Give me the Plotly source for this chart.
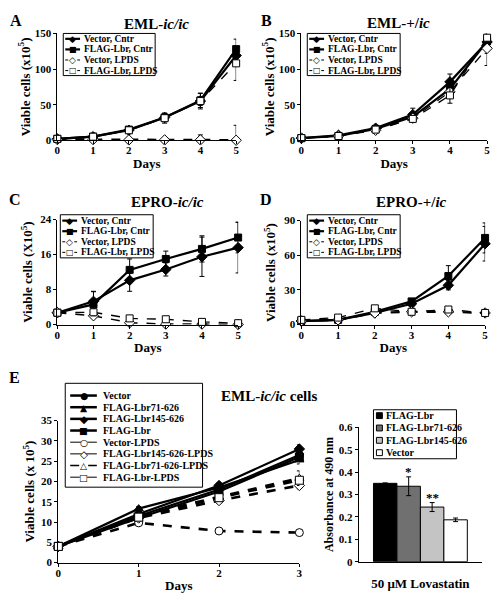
import plotly.graph_objects as go

W, H = 497, 600
SERIF = "Liberation Serif"
GLYPH = "DejaVu Sans"

# ---------------- data ----------------
days5 = [0, 1, 2, 3, 4, 5]
days3 = [0, 1, 2, 3]

# Panel A: EML-ic/ic
a_vector_cntr = [2, 5, 14, 32, 55, 119]
a_vector_cntr_err = [0.5, 1, 2, 4, 6, 10]
a_lbr_cntr = [2, 5, 15, 32, 56, 128]
a_lbr_cntr_err = [0.5, 1, 2, 6, 10, 14]
a_vector_lpds = [1, 1, 0.5, 0.5, 0.5, 0]
a_vector_lpds_err = [0, 0, 0, 2, 7, 21]
a_lbr_lpds = [2, 5, 14, 31, 55, 108]
a_lbr_lpds_err = [0.5, 1, 3, 7, 11, 24]

# Panel B: EML-+/ic
b_vector_cntr = [3, 7, 17, 36, 82, 138]
b_vector_cntr_err = [1, 1, 2, 9, 11, 16]
b_lbr_cntr = [3, 6, 16, 33, 72, 139]
b_lbr_cntr_err = [1, 1, 2, 5, 8, 10]
b_vector_lpds = [3, 6, 14, 31, 68, 129]
b_vector_lpds_err = [1, 1, 2, 4, 8, 24]
b_lbr_lpds = [3, 6, 15, 30, 63, 144]
b_lbr_lpds_err = [1, 1, 2, 4, 11, 8]

# Panel C: EPRO-ic/ic
c_vector_cntr = [2.7, 5.3, 10.1, 12.6, 15.5, 17.6]
c_vector_cntr_err = [0.3, 2.2, 2.5, 1.5, 4.5, 5.8]
c_lbr_cntr = [2.7, 4.6, 12.5, 15.0, 17.3, 19.9]
c_lbr_cntr_err = [0.3, 3.0, 2.5, 1.8, 3.0, 3.5]
c_vector_lpds = [2.7, 2.0, 0.4, 0.1, 0.1, 0.0]
c_vector_lpds_err = [0.3, 0.5, 0.2, 0.1, 0.1, 0.1]
c_lbr_lpds = [2.7, 2.8, 1.4, 1.2, 0.6, 0.3]
c_lbr_lpds_err = [0.3, 0.8, 0.3, 0.3, 0.2, 0.1]

# Panel D: EPRO-+/ic
d_vector_cntr = [3, 4, 10, 18, 34, 70]
d_vector_cntr_err = [0.5, 1, 1.5, 2, 4, 15]
d_lbr_cntr = [3, 4, 11, 20, 42, 75]
d_lbr_cntr_err = [0.5, 1, 1.5, 2, 9, 13]
d_vector_lpds = [3, 4, 10, 11, 11, 10]
d_vector_lpds_err = [0.5, 1, 1, 1, 1, 1]
d_lbr_lpds = [4, 6, 14, 11, 13, 10]
d_lbr_lpds_err = [0.5, 1, 1, 1, 1, 1]

# Panel E: EML-ic/ic cells
e_vector = [4, 11.5, 18, 26.5]
e_vector_err = [0.3, 0.5, 0.6, 1.0]
e_lbr71 = [4, 13.3, 18.5, 25.3]
e_lbr71_err = [0.3, 0.5, 0.6, 1.0]
e_lbr145 = [4, 12, 19, 28]
e_lbr145_err = [0.3, 0.5, 0.6, 1.0]
e_lbr = [4, 11, 17.5, 26]
e_lbr_err = [0.3, 0.5, 0.6, 1.0]
e_vector_lpds = [4, 9.8, 7.8, 7.4]
e_vector_lpds_err = [0.3, 0.4, 0.5, 0.4]
e_lbr145_lpds = [4, 11, 15.3, 19]
e_lbr145_lpds_err = [0.3, 0.5, 0.6, 0.8]
e_lbr71_lpds = [4, 11.5, 16.2, 20.8]
e_lbr71_lpds_err = [0.3, 0.5, 0.6, 1.8]
e_lbr_lpds = [4, 11.2, 16, 20.3]
e_lbr_lpds_err = [0.3, 0.5, 0.6, 0.8]

# Bar panel: 50 uM Lovastatin
bar_category = ["50 μM Lovastatin"]
bar_names = ["FLAG-Lbr", "FLAG-Lbr71-626", "FLAG-Lbr145-626", "Vector"]
bar_values = [0.35, 0.337, 0.244, 0.187]
bar_errors = [0.002, 0.042, 0.02, 0.008]
bar_marks = ["", "*", "**", ""]

# ---------------- helpers ----------------
def px(x):
    return x / W


def py(y):
    return 1 - y / H


def xdom(a, b):
    return [a / W, b / W]


def ydom(top, bottom):
    return [1 - bottom / H, 1 - top / H]


TICKFONT = dict(family=SERIF, size=11, color="black", weight="bold")
TITLEFONT = dict(family=SERIF, size=13, color="black", weight="bold")


def axis(domain, anchor, **kw):
    d = dict(domain=domain, anchor=anchor, showline=True, linecolor="black",
             linewidth=1, ticks="outside", ticklen=3, tickcolor="black",
             showgrid=False, zeroline=False, tickfont=TICKFONT)
    d.update(kw)
    return d


def xaxis(domain, anchor, rng):
    return axis(domain, anchor, range=rng, dtick=1, ticklabelstandoff=-3,
                title=dict(text="Days", font=TITLEFONT, standoff=3))


fig = go.Figure()
shapes = []
annotations = []


def err(arr, minus=None):
    e = dict(type="data", array=arr, color="black", thickness=1, width=2.5,
             visible=True)
    if minus is not None:
        e["symmetric"] = False
        e["arrayminus"] = minus
    return e


def series(x, y, e, name, xa, ya, symbol, filled, dash, lw, size, minus=None):
    fig.add_trace(go.Scatter(
        x=x, y=y, name=name, mode="lines+markers", showlegend=False,
        xaxis=xa, yaxis=ya, cliponaxis=False,
        line=dict(color="black", width=lw, dash=dash),
        marker=dict(symbol=symbol, size=size,
                    color="black" if filled else "white",
                    line=dict(color="black", width=1)),
        error_y=err(e, minus)))


panels = [
    ("x", "y", a_vector_cntr, a_vector_cntr_err, a_lbr_cntr, a_lbr_cntr_err,
     a_vector_lpds, a_vector_lpds_err, a_lbr_lpds, a_lbr_lpds_err, 2.6),
    ("x2", "y2", b_vector_cntr, b_vector_cntr_err, b_lbr_cntr, b_lbr_cntr_err,
     b_vector_lpds, b_vector_lpds_err, b_lbr_lpds, b_lbr_lpds_err, 1.3),
    ("x3", "y3", c_vector_cntr, c_vector_cntr_err, c_lbr_cntr, c_lbr_cntr_err,
     c_vector_lpds, c_vector_lpds_err, c_lbr_lpds, c_lbr_lpds_err, 1.5),
    ("x4", "y4", d_vector_cntr, d_vector_cntr_err, d_lbr_cntr, d_lbr_cntr_err,
     d_vector_lpds, d_vector_lpds_err, d_lbr_lpds, d_lbr_lpds_err, 2.2),
]
for i, (xa, ya, vc, vce, lc, lce, vl, vle, ll, lle, vlw) in enumerate(panels):
    minus = [0] * len(vle) if i == 0 else None
    series(days5, vc, vce, "Vector, Cntr", xa, ya, "diamond", True, "solid", 2.2, 8)
    series(days5, lc, lce, "FLAG-Lbr, Cntr", xa, ya, "square", True, "solid", 2.2, 7)
    series(days5, vl, vle, "Vector, LPDS", xa, ya, "diamond", False, "dash", vlw, 8, minus)
    series(days5, ll, lle, "FLAG-Lbr, LPDS", xa, ya, "square", False, "dash", 1.3, 7)

e_series = [
    (e_vector, e_vector_err, "Vector", "circle", True, "solid"),
    (e_lbr71, e_lbr71_err, "FLAG-Lbr71-626", "triangle-up", True, "solid"),
    (e_lbr145, e_lbr145_err, "FLAG-Lbr145-626", "diamond", True, "solid"),
    (e_lbr, e_lbr_err, "FLAG-Lbr", "square", True, "solid"),
    (e_vector_lpds, e_vector_lpds_err, "Vector-LPDS", "circle", False, "dash"),
    (e_lbr145_lpds, e_lbr145_lpds_err, "FLAG-Lbr145-626-LPDS", "diamond", False, "dash"),
    (e_lbr71_lpds, e_lbr71_lpds_err, "FLAG-Lbr71-626-LPDS", "triangle-up", False, "dash"),
    (e_lbr_lpds, e_lbr_lpds_err, "FLAG-Lbr-LPDS", "square", False, "dash"),
]
for y, e, name, sym, filled, dash in e_series:
    series(days3, y, e, name, "x5", "y5", sym, filled, dash, 2.2 if filled else 2.6, 8)

bar_colors = ["black", "#707070", "#c4c4c4", "white"]
for name, v, e, c in zip(bar_names, bar_values, bar_errors, bar_colors):
    fig.add_trace(go.Bar(
        x=bar_category, y=[v], name=name, showlegend=False,
        xaxis="x6", yaxis="y6", marker=dict(color=c, line=dict(color="black", width=1)),
        error_y=dict(type="data", array=[e], color="black", thickness=1, width=2.5)))

# significance marks above error bars (group offsets from bargap)
BARGAP = 0.24
bw = (1 - BARGAP) / len(bar_names)
for k, (v, e, m) in enumerate(zip(bar_values, bar_errors, bar_marks)):
    if m:
        annotations.append(dict(
            x=-(1 - BARGAP) / 2 + bw * (k + 0.5), y=v + e, xref="x6", yref="y6",
            text=m, showarrow=False, yanchor="bottom", yshift=-4,
            font=dict(family=SERIF, size=13, color="black", weight="bold")))

# ---------------- axes ----------------
layout_axes = dict(
    xaxis=xaxis(xdom(55, 236), "y", [0, 5]),
    yaxis=axis(ydom(28, 137), "x", range=[0, 150], tickvals=[0, 50, 100, 150],
               title=dict(text="Viable cells (x10<sup>5</sup>)", font=TITLEFONT, standoff=1)),
    xaxis2=xaxis(xdom(302, 490), "y2", [0, 5]),
    yaxis2=axis(ydom(28, 137), "x2", range=[0, 150], tickvals=[0, 50, 100, 150],
                title=dict(text="Viable cells (x10<sup>5</sup>)", font=TITLEFONT, standoff=1)),
    xaxis3=xaxis(xdom(55, 238), "y3", [0, 5]),
    yaxis3=axis(ydom(218, 325), "x3", range=[0, 24], tickvals=[0, 8, 16, 24],
                title=dict(text="Viable cells (X10<sup>5</sup>)", font=TITLEFONT, standoff=4)),
    xaxis4=xaxis(xdom(302, 488), "y4", [0, 5]),
    yaxis4=axis(ydom(219, 325), "x4", range=[0, 90], tickvals=[0, 30, 60, 90],
                title=dict(text="Viable cells (x10<sup>5</sup>)", font=TITLEFONT, standoff=5)),
    xaxis5=xaxis(xdom(56, 300), "y5", [0, 3]),
    yaxis5=axis(ydom(423, 568), "x5", range=[0, 35], dtick=5,
                title=dict(text="Viable cells (x 10<sup>5</sup>)", font=TITLEFONT, standoff=3)),
    xaxis6=axis(xdom(360, 485), "y6", type="category", ticks="", ticklabelstandoff=10,
                tickfont=dict(family=SERIF, size=13, color="black", weight="bold")),
    yaxis6=axis(ydom(430, 567), "x6", range=[0, 0.6], tickvals=[0, 0.1, 0.2, 0.3, 0.4, 0.5, 0.6],
                ticktext=["0", "0.1", "0.2", "0.3", "0.4", "0.5", "0.6"],
                title=dict(text="Absorbance at 490 nm", font=dict(family=SERIF, size=12, color="black", weight="bold"), standoff=2)),
)

# ---------------- manual legends ----------------
FILLED = {"diamond": "◆", "square": "■", "circle": "●", "triangle": "▲"}
OPEN = {"diamond": "◇", "square": "□", "circle": "○", "triangle": "△"}
GSIZE = {"diamond": 9, "square": 8, "circle": 8, "triangle": 8}


def glyph(x, y, shape, filled, scale=1.0):
    s = GSIZE[shape] * scale
    if not filled:
        annotations.append(dict(x=px(x), y=py(y), xref="paper", yref="paper", text=FILLED[shape],
                                showarrow=False, xanchor="center", yanchor="middle",
                                font=dict(family=GLYPH, size=s, color="white")))
    annotations.append(dict(x=px(x), y=py(y), xref="paper", yref="paper",
                            text=FILLED[shape] if filled else OPEN[shape],
                            showarrow=False, xanchor="center", yanchor="middle",
                            font=dict(family=GLYPH, size=s, color="black")))


def legend_box(x0, y0, x1, y1):
    shapes.append(dict(type="rect", xref="paper", yref="paper", x0=px(x0), x1=px(x1),
                       y0=py(y0), y1=py(y1), line=dict(color="black", width=1),
                       fillcolor="white", layer="above"))


def line_legend(box, first_row, step, lx0, lx1, tx, items, fs, scale=1.0):
    legend_box(*box)
    for i, (name, shape, filled, dash, lw) in enumerate(items):
        yy = first_row + i * step
        shapes.append(dict(type="line", xref="paper", yref="paper", x0=px(lx0), x1=px(lx1),
                           y0=py(yy), y1=py(yy), line=dict(color="black", width=lw, dash=dash),
                           layer="above"))
        glyph((lx0 + lx1) / 2, yy, shape, filled, scale)
        annotations.append(dict(x=px(tx), y=py(yy), xref="paper", yref="paper", text=name,
                                showarrow=False, xanchor="left", yanchor="middle",
                                font=dict(family=SERIF, size=fs, color="black", weight="bold")))


abcd_items = [
    ("Vector, Cntr", "diamond", True, "solid", 2.2),
    ("FLAG-Lbr, Cntr", "square", True, "solid", 2.2),
    ("Vector, LPDS", "diamond", False, "dot", 1),
    ("FLAG-Lbr, LPDS", "square", False, "dot", 1),
]
line_legend((61, 28, 154, 71), 33.5, 10.8, 63, 78, 80, abcd_items, 9.5)
line_legend((308, 28, 402, 71), 33.5, 10.8, 310, 325, 327, abcd_items, 9.5)
line_legend((58, 213, 152, 257), 219, 10.8, 60, 75, 77, abcd_items, 9.5)
line_legend((308, 213, 402, 257), 219, 10.8, 310, 325, 327, abcd_items, 9.5)

e_items = [
    ("Vector", "circle", True, "solid", 2.5),
    ("FLAG-Lbr71-626", "triangle", True, "solid", 2.5),
    ("FLAG-Lbr145-626", "diamond", True, "solid", 2.5),
    ("FLAG-Lbr", "square", True, "solid", 2.5),
    ("Vector-LPDS", "circle", False, "solid", 1),
    ("FLAG-Lbr145-626-LPDS", "diamond", False, "solid", 1),
    ("FLAG-Lbr71-626-LPDS", "triangle", False, "dash", 1.5),
    ("FLAG-Lbr-LPDS", "square", False, "solid", 1),
]
line_legend((63, 385, 202, 491), 397.5, 11.9, 68, 95, 99, e_items, 10, 1.15)

# bar legend
legend_box(375, 412, 459, 462)
for i, (name, c) in enumerate(zip(bar_names, bar_colors)):
    yy = 418 + i * 12.6
    shapes.append(dict(type="rect", xref="paper", yref="paper", x0=px(378), x1=px(384),
                       y0=py(yy + 3), y1=py(yy - 3), fillcolor=c,
                       line=dict(color="black", width=1), layer="above"))
    annotations.append(dict(x=px(386), y=py(yy), xref="paper", yref="paper", text=name,
                            showarrow=False, xanchor="left", yanchor="middle",
                            font=dict(family=SERIF, size=10, color="black", weight="bold")))

# ---------------- titles / panel letters ----------------
def label(x, y, text, size, anchor="center"):
    annotations.append(dict(x=px(x), y=py(y), xref="paper", yref="paper", text=text,
                            showarrow=False, xanchor=anchor, yanchor="middle",
                            font=dict(family=SERIF, size=size, color="black", weight="bold")))


label(13, 15, "A", 16)
label(267, 15, "B", 16)
label(12, 197, "C", 16)
label(266, 197, "D", 16)
label(12, 379, "E", 16)
label(155, 18, "EML-<i>ic/ic</i>", 15)
label(400, 17, "EML-+/<i>ic</i>", 15)
label(167, 200, "EPRO-<i>ic/ic</i>", 15)
label(413, 200, "EPRO-+/<i>ic</i>", 15)
label(269, 398, "EML-<i>ic/ic</i> cells", 15)

fig.update_layout(
    width=W, height=H, margin=dict(l=0, r=0, t=0, b=0),
    paper_bgcolor="white", plot_bgcolor="white",
    showlegend=False, barmode="group", bargap=BARGAP, bargroupgap=0,
    shapes=shapes, annotations=annotations,
    font=dict(family=SERIF, color="black"),
    **layout_axes,
)

fig.write_html("out.html", config={"displayModeBar": False},
               post_script="document.body.style.margin='0';document.body.style.overflow='hidden';")
